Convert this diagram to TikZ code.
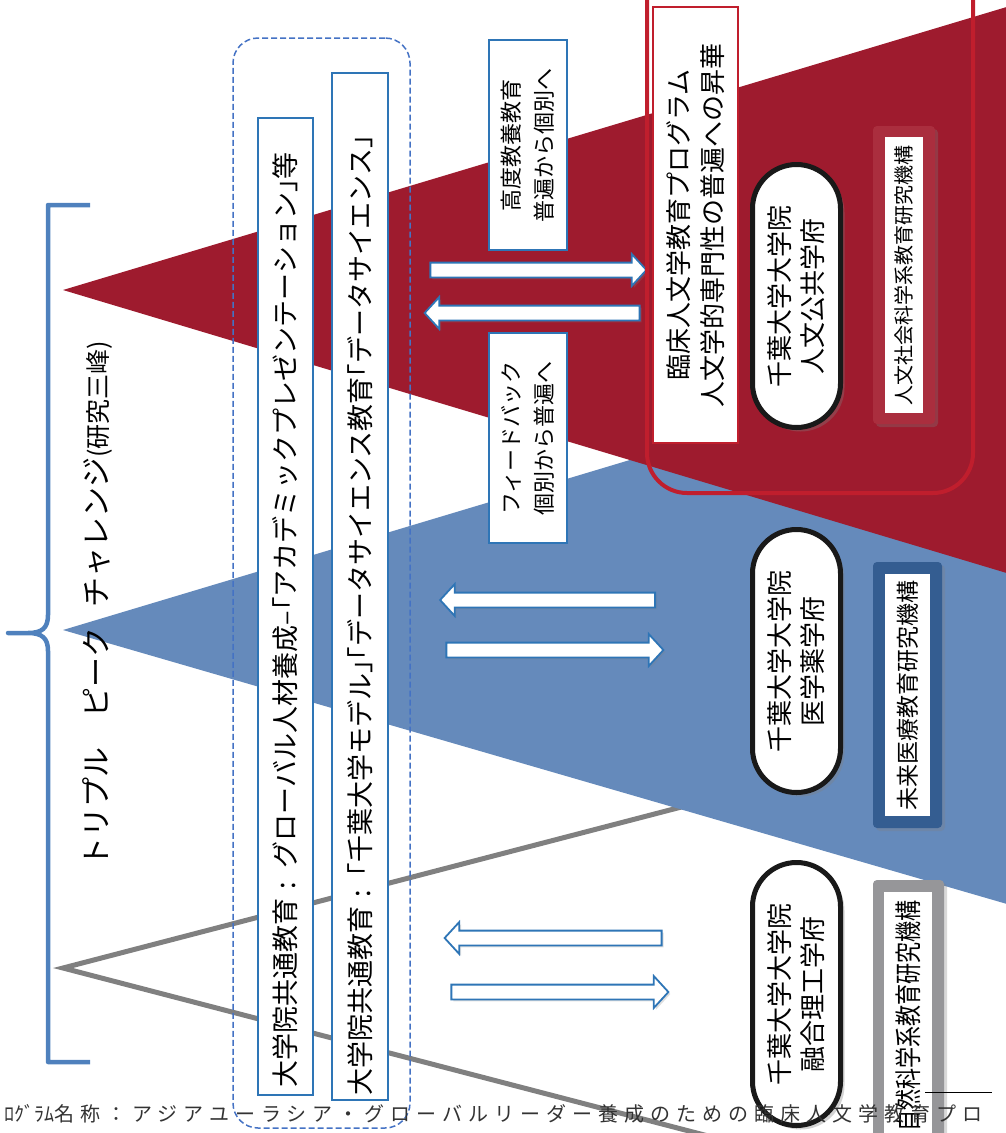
\documentclass[tikz,border=0pt]{standalone}
\usepackage{fontspec}
\setmainfont{Noto Sans CJK JP}
\newfontfamily\footfont[LetterSpace=30]{Noto Sans CJK JP}
\newfontfamily\footnarrow{Noto Sans CJK JP}
\usepackage{xcolor}
\usepackage{graphicx}
\usepackage{tikz}
\usetikzlibrary{positioning,shapes.arrows,shadows}

\definecolor{peakred}{RGB}{158,27,46}
\definecolor{peakblue}{RGB}{101,138,187}
\definecolor{peakgray}{RGB}{128,128,128}
\definecolor{framered}{RGB}{192,30,45}
\definecolor{orgred}{RGB}{170,46,62}
\definecolor{orgblue}{RGB}{52,93,145}
\definecolor{orggray}{RGB}{150,150,153}
\definecolor{lineblue}{RGB}{46,117,182}
\definecolor{dashblue}{RGB}{68,114,196}
\definecolor{braceblue}{RGB}{79,129,189}

\begin{document}
\begin{tikzpicture}[x=1pt, y=-1pt,
    longbox/.style = {draw=lineblue, line width=1.5pt, fill=white, rotate=90, align=left},
    infobox/.style = {draw=lineblue, line width=1.5pt, fill=white, rotate=90, minimum width=210pt, minimum height=78pt, align=center, font=\fontsize{22}{33}\selectfont},
    pill/.style = {draw=black!90, line width=5pt, fill=white, rotate=90, rounded corners=44pt, minimum width=263pt, minimum height=88pt, align=center, font=\fontsize{26}{33}\selectfont,
        drop shadow={opacity=0.35, shadow xshift=4pt, shadow yshift=-4pt}},
    orgframe/.style = {rotate=90, rounded corners=4pt, drop shadow={opacity=0.3, shadow xshift=3pt, shadow yshift=-3pt}},
    orgtext/.style = {fill=white, rotate=90, inner sep=0pt},
    flow/.style = {single arrow, draw=lineblue, line width=1.8pt, fill=white, inner xsep=0pt, inner ysep=6.5pt, single arrow head extend=8.5pt, single arrow tip angle=95,
        drop shadow={opacity=0.25, shadow xshift=2pt, shadow yshift=-2pt}}
]
\useasboundingbox (0,0) rectangle (1006,1133);
\clip (0,0) rectangle (1006,1133);

% three peaks
\draw[peakgray, line width=5pt] (1100,698) -- (63,968) -- (1100,1238);
\fill[peakblue] (63,630) -- (1100,319) -- (1100,931) -- cycle;
\fill[peakred] (63,290) -- (1100,-21) -- (1100,601) -- cycle;

% brace and title
\draw[braceblue, line width=4.5pt, line join=round] (90,205) -- (48,205) -- (48,615)
    .. controls (48,628) and (42,633) .. (28,633) -- (8,633) -- (28,633)
    .. controls (42,633) and (48,638) .. (48,651) -- (48,1062) -- (90,1062);
\node (peaks) [rotate=90, font=\fontsize{30}{30}\selectfont] at (97,604)
    {トリプル　ピーク\hspace{20pt}チャレンジ{\fontsize{25}{25}\selectfont(研究三峰)}};

% common education
\node (common) [draw=dashblue, line width=1.5pt, dash pattern=on 6pt off 3pt, rounded corners=25pt,
    minimum width=177pt, minimum height=1090pt, inner sep=0pt] at (321.5,583) {};
\node (glob) [longbox, text width=961pt, inner xsep=8pt, minimum height=55pt, font=\fontsize{27}{30}\selectfont] at (285.5,606.5)
    {大学院共通教育 : グローバル人材養成–｢アカデミックプレゼンテーション｣等};
\node (data) [longbox, text width=1017pt, inner xsep=5pt, minimum height=56pt, font=\fontsize{27}{30}\selectfont] at (360,586.5)
    {大学院共通教育 : ｢千葉大学モデル｣｢データサイエンス教育｢データサイエンス｣};

% flows
\node (up) [infobox] at (528,145) {高度教養教育\\普遍から個別へ};
\node (down) [infobox] at (528,438) {フィードバック\\個別から普遍へ};

\node (a1) [flow, minimum height=216pt] at (535,270) {};
\node (a2) [flow, minimum height=215pt, shape border rotate=180] at (535.5,313) {};
\node (b1) [flow, minimum height=215pt, shape border rotate=180] at (551,600) {};
\node (b2) [flow, minimum height=217pt] at (551.5,650) {};
\node (c1) [flow, minimum height=217pt, shape border rotate=180] at (556.5,938) {};
\node (c2) [flow, minimum height=217pt] at (556.5,992) {};

% humanities peak
\node (humframe) [draw=framered, line width=4pt, rounded corners=40pt,
    minimum width=326pt, minimum height=540pt, inner sep=0pt] at (810,223) {};
\node (humprog) [draw=framered, line width=1.5pt, fill=white, rotate=90, minimum width=436pt,
    minimum height=85pt, align=center, font=\fontsize{26}{34}\selectfont] at (695.5,225)
    {臨床人文学教育プログラム\\人文学的専門性の普遍への昇華};

% graduate schools
\node (hum) [pill] at (796.5,296) {千葉大学大学院\\人文公共学府};
\node (med) [pill] at (796.5,661) {千葉大学大学院\\医学薬学府};
\node (sci) [pill] at (796.5,994) {千葉大学大学院\\融合理工学府};

% research organizations
\node (orgH) [orgframe, fill=orgred, minimum width=298pt, minimum height=62pt] at (904,275) {};
\node (orgHt) [orgtext, minimum width=276pt, minimum height=38pt, font=\fontsize{20}{20}\selectfont]
    at (orgH.center) {人文社会科学系教育研究機構};
\node (orgM) [orgframe, fill=orgblue, minimum width=266pt, minimum height=69pt] at (907.5,695) {};
\node (orgMt) [orgtext, minimum width=242pt, minimum height=45pt, font=\fontsize{23}{23}\selectfont]
    at (orgM.center) {未来医療教育研究機構};
\node (orgS) [orgframe, fill=orggray, minimum width=270pt, minimum height=71pt] at (908.5,1015) {};
\node (orgSt) [orgtext, minimum width=248pt, minimum height=48pt, font=\fontsize{27}{27}\selectfont]
    at (908,1016) {\scalebox{0.78}[1]{自然科学系教育研究機構}};

% footer
\draw[black, line width=0.8pt] (925,1092) -- (992,1092);
\node (footer) [anchor=base west, inner sep=0pt, text=black!80, font=\fontsize{20}{20}\selectfont]
    at (4,1121) {{\footnarrow ﾛｸﾞﾗﾑ}\footfont 名称：アジアユーラシア・グローバルリーダー養成のための臨床人文学教育プロ};
\end{tikzpicture}
\end{document}
